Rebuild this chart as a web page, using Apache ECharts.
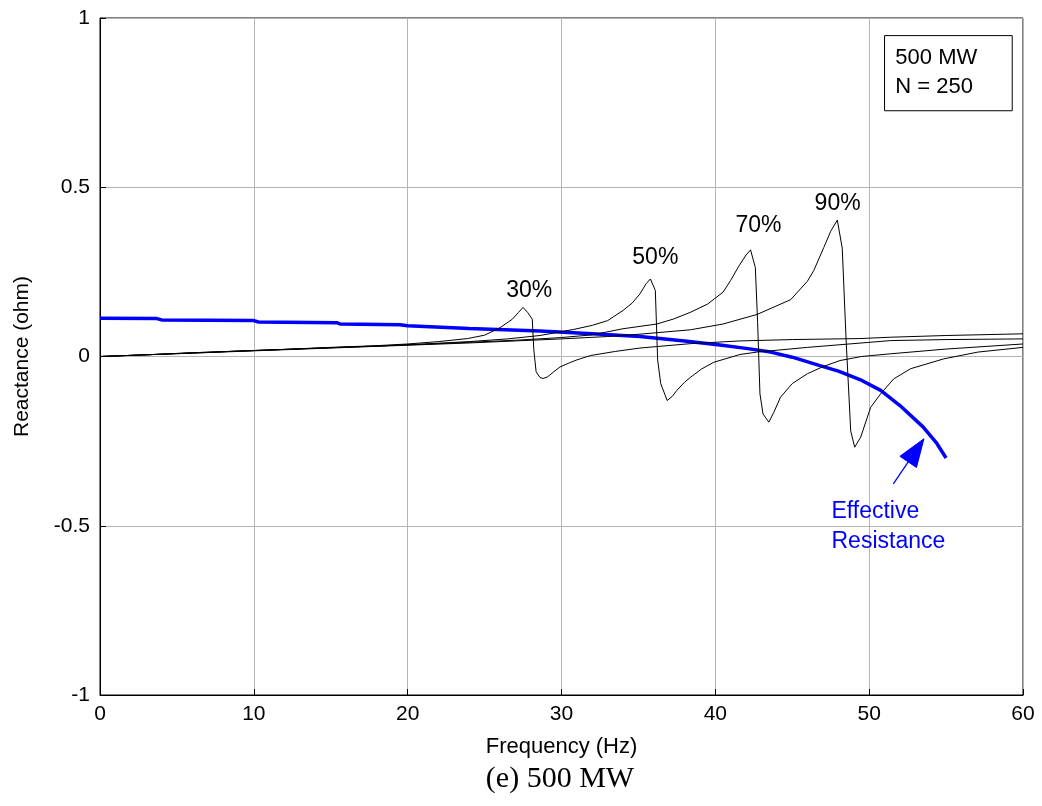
<!DOCTYPE html>
<html>
<head>
<meta charset="utf-8">
<script src="https://cdn.jsdelivr.net/npm/echarts@6/dist/echarts.min.js"></script>
<style>
html,body{margin:0;padding:0;background:#fff;}
#main{width:1042px;height:806px;}
</style>
</head>
<body>
<div id="main"></div>
<script>
// ---- data ----
const xTicks = [0, 10, 20, 30, 40, 50, 60];
const yTicks = [-1, -0.5, 0, 0.5, 1];

const x30 = [0,3,6,9,12,15,18,20,22,23.9,25,26,26.8,27.2,27.5,27.8,28.1,28.2,28.35,28.6,28.8,29.1,29.5,29.9,30.5,31,31.9,33.5,35.1,38.4,41.6,45,49.4,51.4,55,60];
const y30 = [0,0.005,0.011,0.016,0.021,0.027,0.032,0.037,0.044,0.053,0.063,0.085,0.11,0.13,0.145,0.13,0.11,0.02,-0.045,-0.062,-0.065,-0.06,-0.045,-0.031,-0.019,-0.01,0.003,0.015,0.025,0.038,0.046,0.05,0.053,0.057,0.062,0.067];

const x50 = [0,3,6,9,12,15,18,21,24,26.5,28.6,30.8,32,33,34,34.6,35.1,35.5,35.78,36.1,36.25,36.45,36.87,37.2,37.5,38.0,38.4,39.1,39.9,41.6,42.7,46,51.4,55,60];
const y50 = [0,0.005,0.011,0.016,0.021,0.026,0.031,0.037,0.044,0.052,0.062,0.080,0.092,0.106,0.136,0.158,0.185,0.215,0.229,0.195,-0.01,-0.08,-0.13,-0.118,-0.1,-0.076,-0.061,-0.037,-0.017,0.006,0.013,0.027,0.047,0.05,0.052];

const x70 = [0,3,6,9,12,15,18,21,24,27,30,32,34,36.2,37.3,38.4,39.5,40.5,41.0,41.5,42.0,42.29,42.6,42.75,42.9,43.1,43.48,43.8,44.24,45.0,45.98,47,48.1,49.5,51.4,55,60];
const y70 = [0,0.005,0.01,0.016,0.021,0.026,0.031,0.036,0.042,0.048,0.056,0.064,0.082,0.096,0.111,0.131,0.155,0.19,0.225,0.265,0.30,0.315,0.263,0.1,-0.11,-0.17,-0.194,-0.165,-0.12,-0.08,-0.051,-0.03,-0.012,0.0,0.008,0.022,0.037];

const x90 = [0,3,6,9,12,15,18,21,24,27,30,33,35.1,38.4,40.5,42.7,44.9,45.98,46.4,47.05,47.5,47.93,48.25,48.5,48.8,49.06,49.45,50.1,50.75,51.6,52.7,54.85,57.06,60];
const y90 = [0,0.005,0.01,0.015,0.02,0.025,0.03,0.035,0.04,0.046,0.052,0.059,0.066,0.079,0.096,0.124,0.168,0.222,0.254,0.322,0.37,0.403,0.32,0.05,-0.22,-0.268,-0.238,-0.15,-0.11,-0.066,-0.036,-0.007,0.013,0.027];

const xBlue = [0,3.7,4,10,10.3,15.4,15.6,19.5,20,24,28.6,32,35.1,38,40.3,42,43.6,45,46.8,48,49.4,50.75,52,53.5,54.4,55];
const yBlue = [0.113,0.112,0.108,0.106,0.102,0.1,0.096,0.094,0.091,0.083,0.075,0.067,0.059,0.046,0.034,0.024,0.013,-0.002,-0.027,-0.043,-0.068,-0.1,-0.145,-0.208,-0.257,-0.3];

const peakLabels = ['30%', '50%', '70%', '90%'];
const peakLabelX = [27.9, 36.1, 42.8, 47.95];
const peakLabelY = [0.195, 0.292, 0.388, 0.451];

const boxLines = ['500 MW', 'N = 250'];
const blueNoteLines = ['Effective', 'Resistance'];
const caption = '(e) 500 MW';

// ---- chart ----
const FONT = "'Liberation Sans', Arial, sans-serif";
function zip(xs, ys){ return xs.map((x,i)=>[x, ys[i]]); }

const chart = echarts.init(document.getElementById('main'), null, {renderer:'canvas'});

function blackSeries(name, xs, ys){
  return {
    name, type:'line', data: zip(xs, ys), showSymbol:false, symbol:'none',
    lineStyle:{color:'#000', width:1}, z:3, animation:false
  };
}

const option = {
  animation:false,
  backgroundColor:'#fff',
  grid:{left:100, right:19, top:18, bottom:111, show:true, borderColor:'#000', borderWidth:1, backgroundColor:'transparent'},
  xAxis:{
    type:'value', min:xTicks[0], max:xTicks[xTicks.length-1], interval:10,
    name:'Frequency (Hz)', nameLocation:'middle', nameGap:41,
    nameTextStyle:{color:'#000', fontSize:22, fontFamily:FONT},
    axisLine:{onZero:false, lineStyle:{color:'#000', width:1}},
    axisTick:{inside:true, length:6, lineStyle:{color:'#000'}},
    axisLabel:{color:'#000', fontSize:21, fontFamily:FONT, margin:9},
    splitLine:{show:true, lineStyle:{color:'#b4b4b4', width:1}}
  },
  yAxis:{
    type:'value', min:yTicks[0], max:yTicks[yTicks.length-1], interval:0.5,
    name:'Reactance (ohm)', nameLocation:'middle', nameGap:67,
    nameTextStyle:{color:'#000', fontSize:21, fontFamily:FONT},
    axisLine:{onZero:false, lineStyle:{color:'#000', width:1}},
    axisTick:{inside:true, length:6, lineStyle:{color:'#000'}},
    axisLabel:{color:'#000', fontSize:21, fontFamily:FONT, margin:10},
    splitLine:{show:true, lineStyle:{color:'#b4b4b4', width:1}}
  },
  series:[
    {name:'Effective Resistance', type:'line', data: zip(xBlue, yBlue), showSymbol:false, symbol:'none',
     lineStyle:{color:'#0000ff', width:3.5}, z:2},
    blackSeries('30%', x30, y30),
    blackSeries('50%', x50, y50),
    blackSeries('70%', x70, y70),
    blackSeries('90%', x90, y90)
  ]
};
chart.setOption(option);

// ---- annotations positioned through the axes ----
const px = (x,y) => chart.convertToPixel({gridIndex:0}, [x,y]);
const graphics = [];

peakLabels.forEach((t,i)=>{
  const p = px(peakLabelX[i], peakLabelY[i]);
  graphics.push({type:'text', x:p[0], y:p[1], z:10,
    style:{text:t, fill:'#000', font:'23px ' + FONT, textAlign:'center', textVerticalAlign:'middle'}});
});

// text box in upper right
const b0 = px(51.0, 0.948), b1 = px(59.3, 0.726);
graphics.push({type:'rect', z:10, shape:{x:b0[0], y:b0[1], width:b1[0]-b0[0], height:b1[1]-b0[1]},
  style:{fill:'#fff', stroke:'#000', lineWidth:1}});
boxLines.forEach((t,i)=>{
  const p = px(51.7, [0.882, 0.796][i]);
  graphics.push({type:'text', x:p[0], y:p[1], z:11,
    style:{text:t, fill:'#000', font:'22px ' + FONT, textAlign:'left', textVerticalAlign:'middle'}});
});

// blue note + arrow
blueNoteLines.forEach((t,i)=>{
  const p = px(47.55, [-0.458, -0.546][i]);
  graphics.push({type:'text', x:p[0], y:p[1], z:11,
    style:{text:t, fill:'#0000ff', font:'23px ' + FONT, textAlign:'left', textVerticalAlign:'middle'}});
});
const tail = px(51.57, -0.376), tip = px(53.56, -0.243);
const dx = tip[0]-tail[0], dy = tip[1]-tail[1], L = Math.hypot(dx,dy);
const ux = dx/L, uy = dy/L, nx = -uy, ny = ux;
const headLen = 28, headW = 10;
const base = [tip[0]-ux*headLen, tip[1]-uy*headLen];
graphics.push({type:'line', z:11, shape:{x1:tail[0], y1:tail[1], x2:base[0]+ux*4, y2:base[1]+uy*4},
  style:{stroke:'#0000ff', lineWidth:1.3}});
graphics.push({type:'polygon', z:11, shape:{points:[
  tip, [base[0]+nx*headW, base[1]+ny*headW], [base[0]-nx*headW, base[1]-ny*headW]]},
  style:{fill:'#0000ff', stroke:'#0000ff'}});

// caption
graphics.push({type:'text', x:560, y:779, z:11,
  style:{text:caption, fill:'#000', font:"30px 'Liberation Serif', 'Times New Roman', serif", textAlign:'center', textVerticalAlign:'middle'}});

chart.setOption({graphic:graphics});
</script>
</body>
</html>
